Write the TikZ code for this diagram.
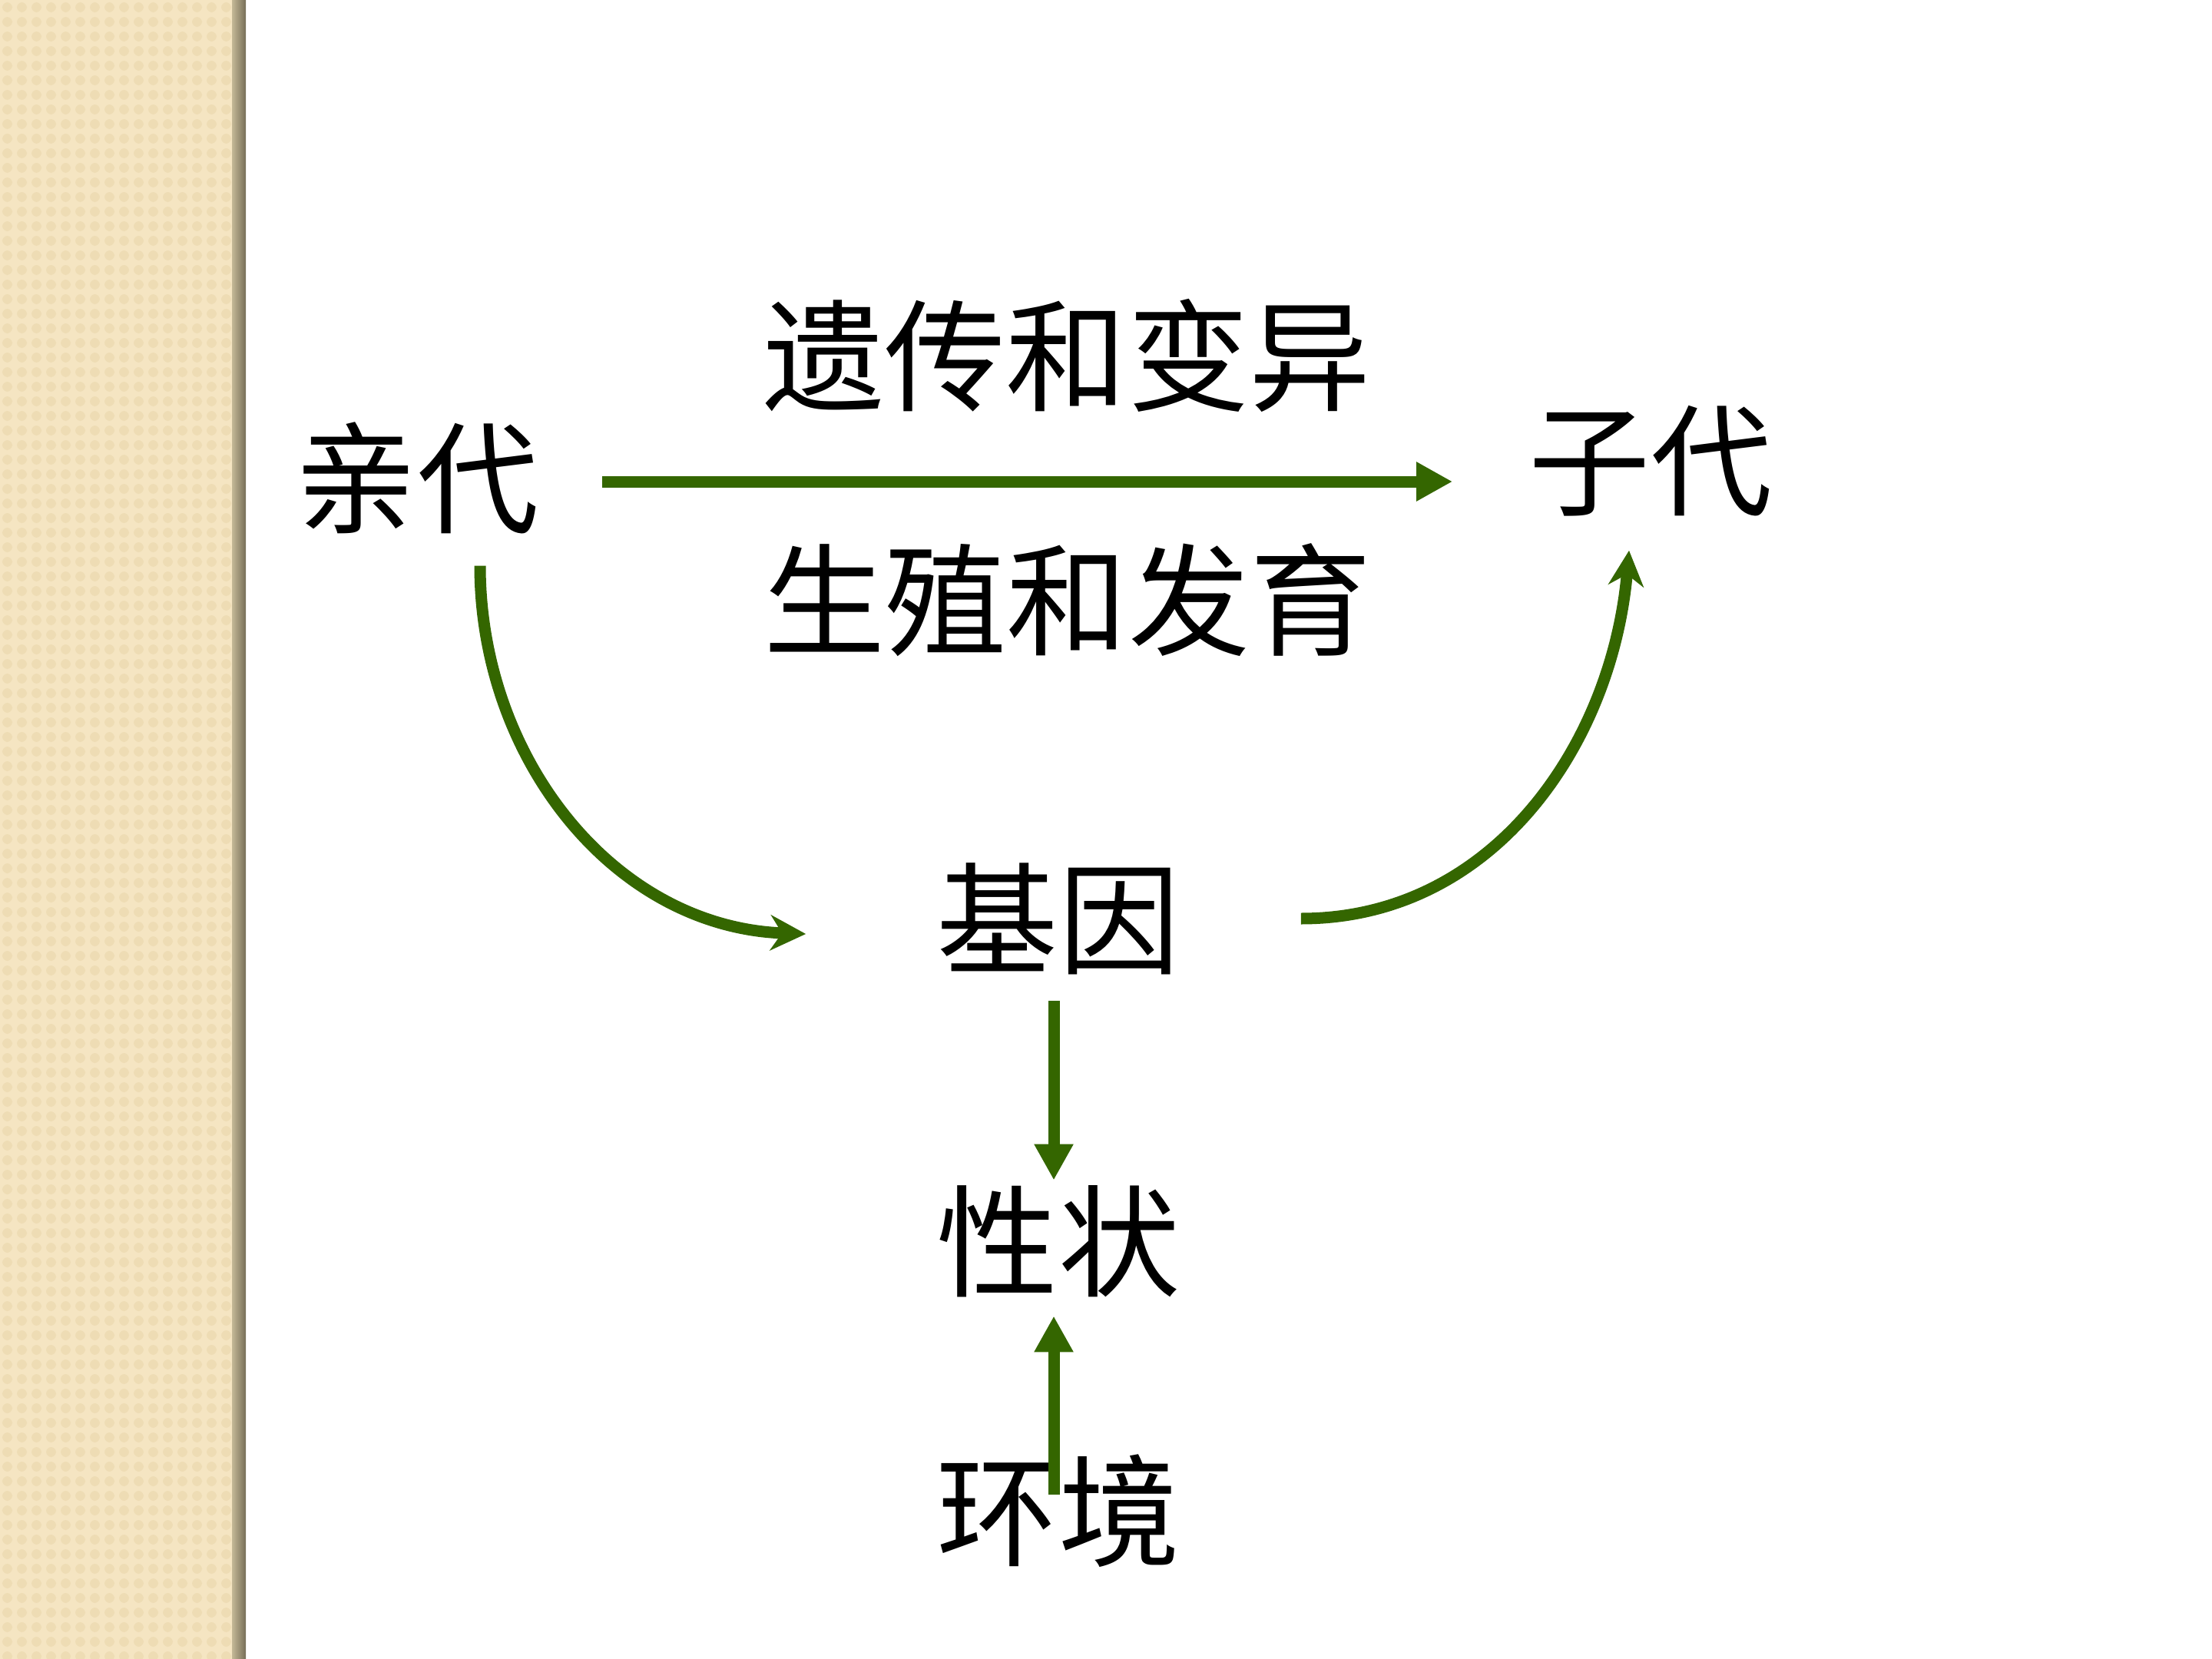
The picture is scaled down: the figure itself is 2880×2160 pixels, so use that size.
\documentclass[tikz,border=0pt]{standalone}
\usepackage{xcolor}
\usepackage{tikz}
\usepackage{fontspec}
\newfontfamily\cjk{Noto Sans CJK SC}
\usetikzlibrary{arrows.meta,positioning}

\definecolor{leafgreen}{RGB}{52,102,0}
\definecolor{paper}{RGB}{245,229,194}
\definecolor{paperdot}{RGB}{238,220,180}
\definecolor{edgedark}{RGB}{118,110,88}
\definecolor{edgelight}{RGB}{196,184,150}

\begin{document}
\begin{tikzpicture}[x=0.1mm, y=-0.1mm,
    line join=round,
    word/.style={font=\cjk\fontsize{45}{52}\selectfont, inner sep=0pt},
    straight/.style={leafgreen, line width=1.5mm, -{Triangle[length=4.7mm,width=4.8mm]}},
    bent/.style={leafgreen, line width=1.5mm, -{Stealth[length=4.6mm,width=4.6mm,inset=1.5mm]}}]
\useasboundingbox (0,0) rectangle (2880,2160);

% PAPER STRIP
\fill[paper] (0,0) rectangle (302,2160);
\foreach \i in {0,...,15}{
  \foreach \j in {0,...,113}{
    \fill[paperdot, rounded corners=2pt] ({\i*19+3},{\j*19+3}) rectangle ++(13,13);
  }
}
\shade[left color=edgelight, right color=edgedark] (302,0) rectangle (320,2160);

% WORDS
\node[word] (qin)        at (543,623)  {亲代};
\node[word] (zi)         at (2149,600) {子代};
\node[word] (yichuan)    at (1389,463) {遗传和变异};
\node[word] (shengzhi)   at (1390,781) {生殖和发育};
\node[word] (jiyin)      at (1378,1196) {基因};
\node[word] (xingzhuang) at (1378,1616) {性状};
\node[word] (huanjing)   at (1378,1967) {环境};

% ARROWS
\draw[straight, shorten <=8.2mm, shorten >=9.9mm] ([yshift=-0.4mm]qin.east) -- ([yshift=-0.4mm]qin.east -| zi.west);
\draw[bent] ([xshift=8.2mm,yshift=-4mm]qin.south) to[out=-90, in=178]
  ([xshift=-17mm,yshift=-2mm]jiyin.west);
\draw[bent] ([xshift=15.7mm]jiyin.east) to[out=0, in=-95]
  ([xshift=-2.8mm,yshift=-4.4mm]zi.south);
\draw[straight] ([xshift=-0.6mm,yshift=-3.4mm]jiyin.south) -- ([xshift=-0.6mm,yshift=0.6mm]xingzhuang.north);
\draw[straight] ([xshift=-0.6mm,yshift=-5.3mm]huanjing.north) -- ([xshift=-0.6mm,yshift=-2.4mm]xingzhuang.south);

\end{tikzpicture}
\end{document}
